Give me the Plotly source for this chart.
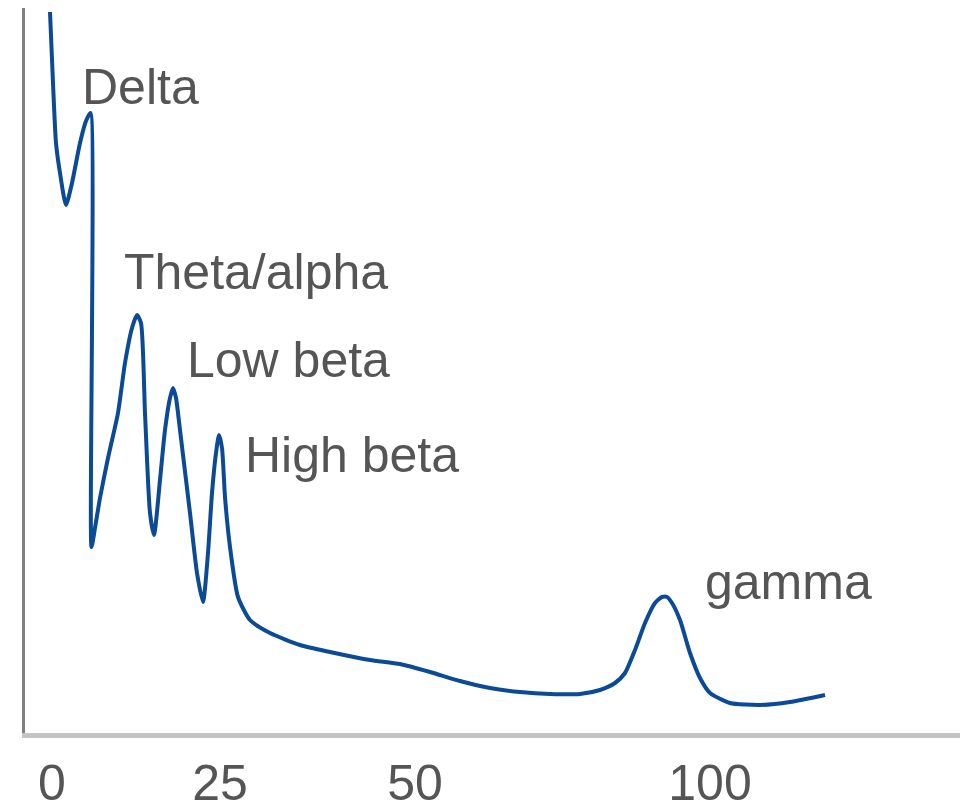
import plotly.graph_objects as go

# x position along the (non-linear) frequency axis, y = relative power
freq_pos = [50, 53, 56, 60, 66, 72, 80, 86, 90.5, 91.5, 95, 100, 108, 118, 125, 132, 137, 141, 145, 150, 154,
            160, 165, 170, 173, 176, 180, 190, 197, 203, 208, 212, 216, 219, 222, 225, 230, 238, 250,
            270, 300, 330, 370, 400, 430, 460, 490, 520, 550, 580, 600, 615, 625, 635, 645, 655, 662, 667,
            672, 680, 690, 700, 710, 730, 760, 790, 825]
power = [721, 650, 590, 560, 528, 550, 590, 612, 620, 186, 205, 235, 275, 320, 370, 405, 418, 410, 320, 220, 198,
         253, 303, 335, 345, 335, 303, 220, 160, 131, 180, 240, 280, 298, 285, 236, 186, 136, 113,
         100, 88, 81, 73, 69, 61, 52, 45, 41, 39, 39, 43, 50, 60, 83, 110, 130, 136, 136,
         130, 113, 80, 55, 40, 30, 28, 31, 38]

tick_pos = [52, 220, 415, 710]
tick_labels = ["0", "25", "50", "100"]

band_names = ["Delta", "Theta/alpha", "Low beta", "High beta", "gamma"]
band_x = [80, 122, 185, 243, 703]
band_y = [646, 461, 373, 278, 151]

fig = go.Figure(go.Scatter(
    x=freq_pos, y=power, mode="lines",
    line=dict(color="#0b4a97", width=4, shape="spline", smoothing=0.6),
    hoverinfo="skip",
))

for name, bx, by in zip(band_names, band_x, band_y):
    fig.add_annotation(x=bx, y=by, text=name, showarrow=False,
                       xanchor="left", yanchor="middle",
                       font=dict(size=50, color="#555555"))

# page body has an 8px margin, so the margins are shifted by that much
fig.update_layout(
    width=968, height=803,
    margin=dict(l=17, r=11, t=0, b=78, autoexpand=False),
    plot_bgcolor="white", paper_bgcolor="white",
    showlegend=False,
    font=dict(family="Liberation Sans, Arial, sans-serif", color="#555555"),
)
fig.update_xaxes(range=[25, 965], showgrid=False, zeroline=False, automargin=False,
                 showline=True, linecolor="#c4c4c4", linewidth=5,
                 tickvals=tick_pos, ticktext=tick_labels,
                 ticks="outside", ticklen=2, tickcolor="white",
                 tickfont=dict(size=50, color="#555555"))
fig.update_yaxes(range=[0, 725], showgrid=False, zeroline=False, automargin=False,
                 showline=True, linecolor="#808080", linewidth=3,
                 showticklabels=False)

fig.write_html("out.html")
